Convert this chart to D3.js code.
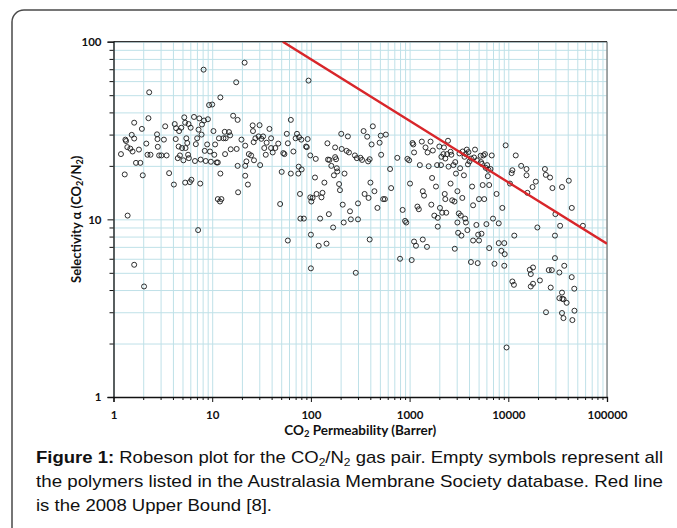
<!DOCTYPE html>
<html>
<head>
<meta charset="utf-8">
<script src="https://cdn.jsdelivr.net/npm/d3@7/dist/d3.min.js"></script>
<style>
  html, body { margin: 0; padding: 0; background: #fff; }
  svg { display: block; }
</style>
</head>
<body>
<svg id="chart" width="677" height="528"></svg>
<script>
// ---------- DATA ----------
const xTickValues = [1, 10, 100, 1000, 10000, 100000];
const xTickLabels = ["1", "10", "100", "1000", "10000", "100000"];
const yTickValues = [1, 10, 100];
const yTickLabels = ["1", "10", "100"];

// CO2 permeability (Barrer)
const permeability = [
  1.19,1.32,1.34,1.38,1.30,1.39,1.48,1.56,1.53,1.62,1.62,1.69,1.81,1.62,1.87,1.94,1.98,2.04,2.15,2.21,
  2.26,2.30,2.37,2.76,2.79,2.81,2.90,3.06,3.24,3.34,3.45,3.66,4.09,4.17,4.27,4.31,4.48,4.57,4.62,4.71,
  4.86,4.95,5.11,5.32,5.21,5.32,5.37,5.47,5.59,5.7,5.8,5.94,5.76,6.05,6.16,6.54,6.69,6.83,7.04,7.2,
  7.27,7.4,7.56,7.64,7.8,7.88,8.18,8.26,8.4,8.6,8.89,9.05,9.3,9.5,9.7,10,10.3,10.5,10.7,11.1,
  11.4,11.4,11.7,12.0,12.1,12.4,12.1,13,13.4,13.7,13.5,14.8,15.2,15.4,16.3,17.5,17.7,18.1,18.1,18.3,
  19.8,21.3,21.6,21.6,21.6,22.2,23,23.5,24.8,25.7,25.9,26.3,26.5,27.4,29.5,30.2,30.6,31.5,32.8,33.7,
  34.9,35.6,38,39.5,39.5,41,43.6,46.7,48.8,50.6,52.5,53.9,57,58.4,58.4,62.6,62.6,66.5,70,72.3,
  74.5,75.2,75.9,77.5,78.3,79.9,80.6,84.9,89.2,90.9,92.7,94.6,98.6,98.6,100,100,101,104,110,112,
  114,120,124,128,131,137,144,147,149,154,152,161,168,171,176,176,180,183,185,193,
  197,205,203,210,215,219,230,237,243,249,254,279,285,292,300,300,318,330,342,350,
  372,380,384,394,394,401,412,424,440,472,497,510,515,540,562,575,634,650,750,800,
  850,900,925,950,990,1010,1050,1070,1090,1110,1110,1160,1200,1240,1270,1330,1360,1360,1400,1450,
  1500,1520,1560,1630,1660,1690,1720,1780,1850,1900,1930,1930,2000,2030,2080,2140,2200,2230,2270,2300,
  2350,2400,2480,2450,2600,2650,2700,2780,2850,2950,3050,3050,3100,3150,3250,3300,3350,3420,3450,3550,
  3650,3700,3720,3800,3850,3900,3950,4050,4300,4400,4400,4600,4750,4950,5050,5050,5250,5350,5500,5600,
  5700,5800,6000,6100,6200,6400,6600,6800,7000,7600,8000,8700,9400,9600,10400,10800,11000,11500,11900,13500,
  15300,15300,15600,17600,19000,19700,23500,24000,26500,28000,29700,30000,33500,35000,41000,44000,57000,
  2870,4180,4900,6400,7240,8000,9100,8500,9200,9100,11000,11400,16500,16900,17800,16900,17800,20900,26900,25700,
  29700,36900,43900,46600,35000,32900,35300,36300,39000,24100,35000,46800,36200,44600,27600,32900,
  2100,2300,2900,3600,4200,4800,5300,5900,3200,2600,4500,5400,6300
];
// CO2/N2 selectivity
const selectivity = [
  23.3,28.1,27.6,25.5,17.9,10.5,25,24.1,29.9,28.5,35,20.8,24.7,5.55,20.8,32.3,17.7,4.19,26.7,23.1,
  37.1,51.9,23.1,30.1,28.3,25.6,22.9,22.9,28.1,33.4,22.9,18.2,15.7,34.4,28.3,32.6,22.1,25.7,31.4,22.9,
  32.8,25.2,21.5,16.1,37.5,35,25.2,28.6,26.9,23.1,22.1,16.2,34.4,32.8,16.7,37.7,21.3,26.5,28.6,8.7,
  32,37,15.9,21.7,30,34.2,69.6,36,24.3,21.3,26.4,36.6,44,24.1,21.1,44.3,31.4,23.1,26.4,20.9,
  20.9,13,28.6,12.6,48.6,13,18.1,28.6,31.1,28.6,23.3,31,29.7,24.8,38.3,59.1,24.9,36.3,20,14.2,
  28.1,76.2,20,17.6,26,21.2,15.7,23.3,22.9,33.8,31.4,27.2,21.5,28.6,29.3,33.9,20.2,28.4,29.3,25.2,
  23.1,27,32.3,28.6,25.2,23.8,25.2,26.7,12.2,18.5,23.6,23.3,30.3,26.8,7.6,36.3,18.1,24.1,28.6,30.3,
  18.1,19.8,29,13.9,10.1,28.1,19.1,10.1,25.7,25.5,28.3,60.4,22.9,13.3,8.2,5.3,12.6,13.2,17.2,21.9,
  13.9,7.1,10.1,13.3,14.1,16.1,7.3,26.8,21.7,21.6,10.7,20,9,17.7,25.4,22.4,21.8,19.4,18.6,15.8,
  14.6,24.9,30.3,12.1,9.6,18.1,24.3,29.3,23.8,11.1,10,22.9,5.0,22.1,12.3,10,22.2,21.6,31.4,13.9,
  29.2,21.2,13.2,7.7,21.8,16.1,26.4,33.4,14.4,11.6,27,29.6,23.1,13,13,30,19.2,15,22.2,6,
  11.3,9.8,9.6,21.9,21.5,15.9,5.9,26.9,26.4,23.8,7.5,7.1,11.8,11.4,20.2,27.4,14.4,7.7,13.6,25.4,
  7,23.8,19.9,27.4,12.1,17.1,24.4,10.5,15.3,20.2,10.2,9.1,25.7,11.6,20.2,10.9,23.3,25.4,13.9,13,
  10.9,23.3,19.8,27.7,15.9,23.1,12.8,20.2,12.6,18.1,14.4,9.6,8.4,10.8,19.4,10.5,8.1,13.2,24.1,17.7,
  10.1,23.3,9.6,24.7,8.7,20.4,23.9,21.2,15.3,12,7.6,24.7,9.3,8.2,7.6,13,22.8,8.3,15.6,22.9,
  13,23.3,9.4,20.2,17.5,15.6,19.2,22.9,10.1,13.9,9.5,11.6,26.1,1.9,15.9,18.2,18.9,8.1,22.9,20,
  19.2,17.7,14.1,15.2,16.3,9,19.2,17.8,17.2,15,8.1,10.7,9.2,15.2,16.5,11.6,9.2,
  6.83,5.75,5.67,6.89,5.62,7.35,7.35,6.65,6.37,5.48,4.47,4.28,5.2,4.92,5.36,4.19,4.34,4.53,4.13,5.18,
  6.05,5.48,4.73,4.07,3.87,3.6,3.57,3.55,3.39,3.0,2.97,3.06,2.78,2.71,5.18,5.02,
  22.5,22,21,22.5,22,21.5,21,19.5,23.5,24,22.3,20.5,19
];

// 2008 Robeson upper bound, end points
const boundPermeability = [51.9, 100000];
const boundSelectivity = [100, 7.29];

// ---------- LAYOUT ----------
const svg = d3.select("#chart");
const pLeft = 113.5, pRight = 607, pTop = 41.7, pBottom = 397;

const x = d3.scaleLog().domain([1, 100000]).range([pLeft, pRight]);
const y = d3.scaleLog().domain([1, 100]).range([pBottom, pTop]);

// outer frame
svg.append("rect")
  .attr("x", 12).attr("y", 10).attr("width", 720).attr("height", 560)
  .attr("rx", 12).attr("ry", 12)
  .attr("fill", "none").attr("stroke", "#4a4a4a").attr("stroke-width", 1.5);

// minor values
const xMinor = [];
for (let k = 0; k < 5; k++) for (let m = 2; m <= 9; m++) xMinor.push(m * Math.pow(10, k));
const yMinor = [];
for (let k = 0; k < 2; k++) for (let m = 2; m <= 9; m++) yMinor.push(m * Math.pow(10, k));

const gridColor = "#bfe1e8";

// grids
svg.append("g")
  .attr("transform", `translate(0,${pBottom})`)
  .call(d3.axisBottom(x).tickValues(xTickValues.concat(xMinor)).tickSize(-(pBottom - pTop)).tickFormat(""))
  .call(g => g.select(".domain").remove())
  .call(g => g.selectAll("text").remove())
  .call(g => g.selectAll("line").attr("stroke", gridColor).attr("stroke-width", 1));

svg.append("g")
  .attr("transform", `translate(${pLeft},0)`)
  .call(d3.axisLeft(y).tickValues(yTickValues.concat(yMinor)).tickSize(-(pRight - pLeft)).tickFormat(""))
  .call(g => g.select(".domain").remove())
  .call(g => g.selectAll("text").remove())
  .call(g => g.selectAll("line").attr("stroke", gridColor).attr("stroke-width", 1));

// right & top borders
svg.append("line").attr("x1", pRight).attr("x2", pRight).attr("y1", pTop).attr("y2", pBottom)
  .attr("stroke", "#8c8c8c").attr("stroke-width", 1.5);
svg.append("line").attr("x1", pLeft).attr("x2", pRight).attr("y1", pTop).attr("y2", pTop)
  .attr("stroke", "#333").attr("stroke-width", 1.2);

// points
svg.append("g")
  .selectAll("circle")
  .data(permeability.map((p, i) => ({ p, s: selectivity[i] })))
  .join("circle")
  .attr("cx", d => x(d.p))
  .attr("cy", d => y(d.s))
  .attr("r", 2.5)
  .attr("fill", "none")
  .attr("stroke", "#1a1a1a")
  .attr("stroke-width", 0.9);

// upper bound line
svg.append("clipPath").attr("id", "clip")
  .append("rect").attr("x", pLeft).attr("y", pTop).attr("width", pRight - pLeft).attr("height", pBottom - pTop);
svg.append("path")
  .datum(boundPermeability.map((p, i) => ({ p, s: boundSelectivity[i] })))
  .attr("clip-path", "url(#clip)")
  .attr("d", d3.line().x(d => x(d.p)).y(d => y(d.s)))
  .attr("fill", "none").attr("stroke", "#d8262a").attr("stroke-width", 2.4);

// axes
const tickFont = "Lato, 'Liberation Sans', sans-serif";
const xAxis = svg.append("g")
  .attr("transform", `translate(0,${pBottom})`)
  .call(d3.axisBottom(x).tickValues(xTickValues).tickSize(5).tickPadding(9)
    .tickFormat((d, i) => xTickLabels[i]));
xAxis.select(".domain").attr("stroke", "#111").attr("stroke-width", 1.3);
xAxis.selectAll("line").attr("stroke", "#111");
xAxis.selectAll("text").attr("font-family", tickFont).attr("font-weight", "bold")
  .attr("font-size", "11.5px").attr("fill", "#111");
svg.append("g")
  .attr("transform", `translate(0,${pBottom})`)
  .call(d3.axisBottom(x).tickValues(xMinor).tickSize(3).tickFormat(""))
  .call(g => g.select(".domain").remove())
  .call(g => g.selectAll("text").remove())
  .call(g => g.selectAll("line").attr("stroke", "#111"));

const yAxis = svg.append("g")
  .attr("transform", `translate(${pLeft},0)`)
  .call(d3.axisLeft(y).tickValues(yTickValues).tickSize(6).tickPadding(6)
    .tickFormat((d, i) => yTickLabels[i]));
yAxis.select(".domain").attr("stroke", "#111").attr("stroke-width", 1.3);
yAxis.selectAll("line").attr("stroke", "#111");
yAxis.selectAll("text").attr("font-family", tickFont).attr("font-weight", "bold")
  .attr("font-size", "11.5px").attr("fill", "#111");
svg.append("g")
  .attr("transform", `translate(${pLeft},0)`)
  .call(d3.axisLeft(y).tickValues(yMinor).tickSize(4).tickFormat(""))
  .call(g => g.select(".domain").remove())
  .call(g => g.selectAll("text").remove())
  .call(g => g.selectAll("line").attr("stroke", "#111"));

// axis titles
function subText(sel, parts) {
  parts.forEach(pt => {
    const ts = sel.append("tspan").text(pt.t);
    if (pt.sub) ts.attr("font-size", "0.7em").attr("baseline-shift", "-25%");
  });
}
const titleFont = "Lato, 'Open Sans', sans-serif";
const xt = svg.append("text")
  .attr("x", (pLeft + pRight) / 2).attr("y", 435)
  .attr("text-anchor", "middle").attr("font-family", titleFont)
  .attr("font-weight", "bold").attr("font-size", "13.5px").attr("fill", "#111");
subText(xt, [{ t: "CO" }, { t: "2", sub: true }, { t: " Permeability (Barrer)" }]);

const yt = svg.append("text")
  .attr("transform", `translate(81,${(pTop + pBottom) / 2}) rotate(-90)`)
  .attr("text-anchor", "middle").attr("font-family", titleFont)
  .attr("font-weight", "bold").attr("font-size", "13px").attr("fill", "#111");
subText(yt, [{ t: "Selectivity \u03b1 (CO" }, { t: "2", sub: true }, { t: "/N" }, { t: "2", sub: true }, { t: ")" }]);

// caption
const capFont = "'Liberation Sans', Arial, sans-serif";
const c1 = svg.append("text").attr("x", 36).attr("y", 463)
  .attr("font-family", capFont).attr("font-size", "17px").attr("fill", "#111")
  .attr("textLength", 627).attr("lengthAdjust", "spacingAndGlyphs");
c1.append("tspan").attr("font-weight", "bold").text("Figure 1:");
c1.append("tspan").text(" Robeson plot for the CO");
c1.append("tspan").attr("font-size", "11px").attr("baseline-shift", "-30%").text("2");
c1.append("tspan").text("/N");
c1.append("tspan").attr("font-size", "11px").attr("baseline-shift", "-30%").text("2");
c1.append("tspan").text(" gas pair. Empty symbols represent all");

svg.append("text").attr("x", 36).attr("y", 487)
  .attr("font-family", capFont).attr("font-size", "17px").attr("fill", "#111")
  .attr("textLength", 627).attr("lengthAdjust", "spacingAndGlyphs")
  .text("the polymers listed in the Australasia Membrane Society database. Red line");

svg.append("text").attr("x", 36).attr("y", 511)
  .attr("font-family", capFont).attr("font-size", "17px").attr("fill", "#111")
  .attr("textLength", 236).attr("lengthAdjust", "spacingAndGlyphs")
  .text("is the 2008 Upper Bound [8].");
</script>
</body>
</html>
